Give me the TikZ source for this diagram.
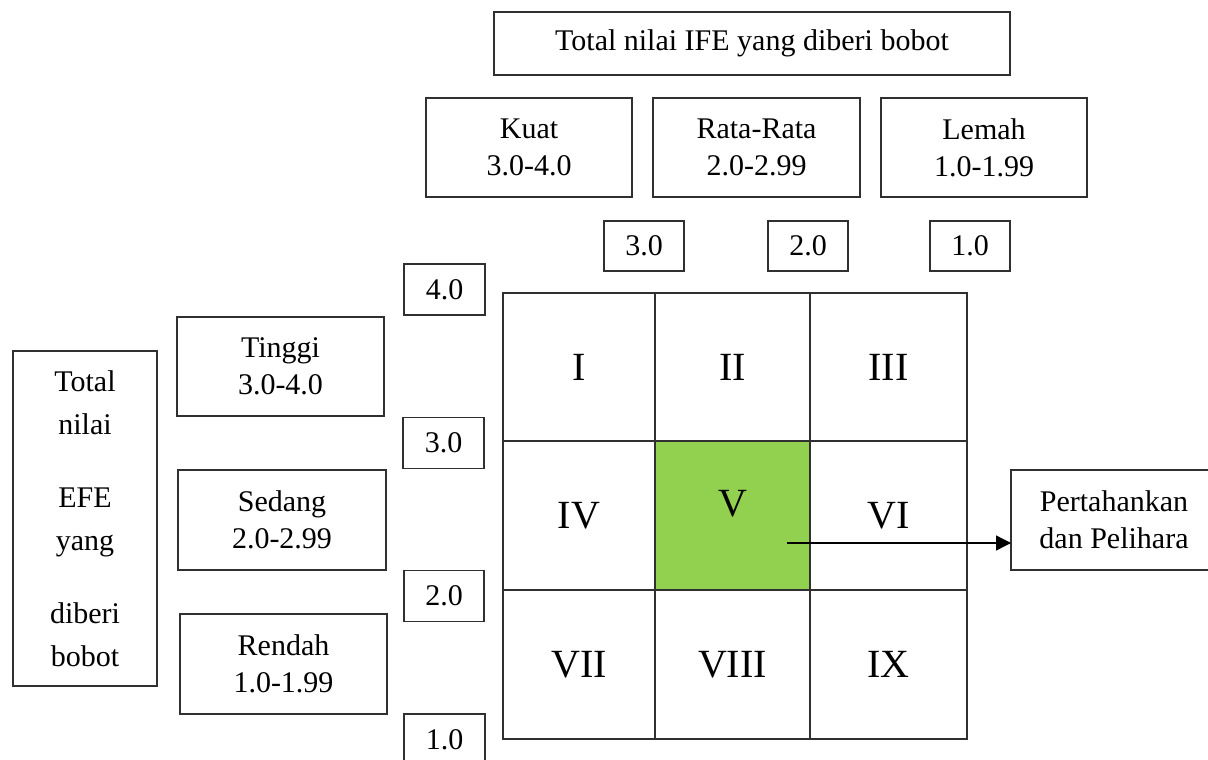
\documentclass[tikz,border=0pt]{standalone}
\usepackage{fontspec}
\setmainfont{Liberation Serif}
\usetikzlibrary{arrows.meta}
\definecolor{cellgreen}{HTML}{92D050}
\definecolor{linegray}{HTML}{303030}
\begin{document}
\begin{tikzpicture}[x=1pt,y=-1pt,
  box/.style={draw=linegray, line width=1.3pt, rectangle, inner sep=0pt, outer sep=0pt,
    align=center, font=\fontsize{30}{37}\selectfont},
  numbox/.style={box, minimum width=80, minimum height=51},
  cell/.style={draw=linegray, line width=1.3pt, rectangle, inner sep=0pt, outer sep=0pt,
    font=\fontsize{40}{48}\selectfont},
  colA/.style={minimum width=152},
  colB/.style={minimum width=155},
  colC/.style={minimum width=157},
  rowA/.style={minimum height=148},
  rowB/.style={minimum height=149},
  conn/.style={line width=1.3pt, -{Triangle[length=15pt,width=15pt]}}]
\useasboundingbox (0,0) rectangle (1208,760);

% top header
\node[box, minimum width=516, minimum height=63] (title) at (752,43.5) {Total nilai IFE yang diberi bobot};
\node[box, minimum width=206, minimum height=99] (kuat) at (529,147.5) {Kuat\\3.0-4.0};
\node[box, minimum width=207, minimum height=99] (rata) at (756.5,147.5) {Rata-Rata\\2.0-2.99};
\node[box, minimum width=206, minimum height=99] (lemah) at (984,147.5) {Lemah\\1.0-1.99};

% top scale numbers
\node[numbox, minimum height=50] (t3) at (644,246) {3.0};
\node[numbox, minimum height=50] (t2) at (808,246) {2.0};
\node[numbox, minimum height=50] (t1) at (970,246) {1.0};

% left scale numbers
\node[numbox, minimum width=81] (l4) at (444.5,289.5) {4.0};
\node[numbox, minimum width=81] (l3) at (443.5,443) {3.0};
\node[numbox] (l2) at (444,596) {2.0};
\node[numbox, minimum width=81, minimum height=52] (l1) at (444.5,740) {1.0};

% left labels
\node[box, minimum width=144, minimum height=335, font=\fontsize{30}{43.5}\selectfont] (efe) at (85,518.5)
  {Total\\nilai\\[29pt]EFE\\yang\\[29pt]diberi\\bobot};
\node[box, minimum width=207, minimum height=99] (tinggi) at (280.5,366.5) {Tinggi\\3.0-4.0};
\node[box, minimum width=208, minimum height=100] (sedang) at (282,520) {Sedang\\2.0-2.99};
\node[box, minimum width=207, minimum height=100] (rendah) at (283.5,664) {Rendah\\1.0-1.99};

% matrix cells
\node[cell, colA, rowA] (c1) at (579,367) {I};
\node[cell, colB, rowA] (c2) at (732.5,367) {II};
\node[cell, colC, rowA] (c3) at (888.5,367) {III};
\node[cell, colA, rowB] (c4) at (579,515.5) {IV};
\node[cell, colB, rowB, fill=cellgreen] (c5) at (732.5,515.5) {\raisebox{25pt}{V}};
\node[cell, colC, rowB] (c6) at (888.5,515.5) {VI};
\node[cell, colA, rowB] (c7) at (579,664.5) {VII};
\node[cell, colB, rowB] (c8) at (732.5,664.5) {VIII};
\node[cell, colC, rowB] (c9) at (888.5,664.5) {IX};

% result
\node[box, minimum width=206, minimum height=100] (pert) at (1114,520) {Pertahankan\\dan Pelihara};
\coordinate (start) at (787,543);
\draw[conn] (start) -- (start -| pert.west);
\end{tikzpicture}
\end{document}
